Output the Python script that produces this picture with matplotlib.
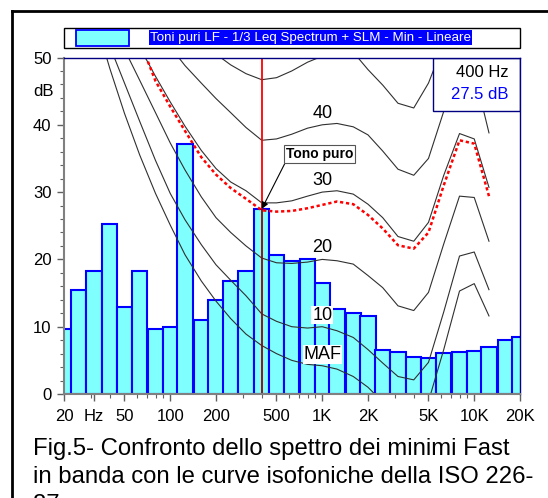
import matplotlib
matplotlib.use("Agg")
import matplotlib.pyplot as plt
from matplotlib import font_manager
from matplotlib.patches import Rectangle
from matplotlib.lines import Line2D
from matplotlib.ticker import FixedLocator, NullFormatter, MultipleLocator

# ---------------- data ----------------
band_freqs = [20, 25, 31.5, 40, 50, 63, 80, 100, 125, 160, 200, 250, 315, 400, 500, 630,
              800, 1000, 1250, 1600, 2000, 2500, 3150, 4000, 5000, 6300, 8000, 10000,
              12500, 16000, 20000]
band_levels = [9.7, 15.4, 18.3, 25.2, 12.9, 18.3, 9.7, 9.9, 37.2, 11.0, 13.9, 16.8, 18.3,
               27.5, 20.7, 19.7, 20.1, 16.5, 12.6, 12.0, 11.6, 6.5, 6.2, 5.5, 5.3, 6.1,
               6.3, 6.4, 7.0, 8.0, 8.4]

curve_freqs = [20, 25, 31.5, 40, 50, 63, 80, 100, 125, 160, 200, 250, 315, 400, 500, 630,
               800, 1000, 1250, 1600, 2000, 2500, 3150, 4000, 5000, 6300, 8000, 10000, 12500]
maf = [74.3, 65.0, 56.3, 48.4, 41.7, 35.5, 29.8, 25.1, 20.7, 16.8, 13.8, 11.2, 8.9, 7.2,
       6.0, 5.0, 4.4, 4.2, 3.7, 2.6, 1.0, -1.2, -3.6, -3.9, -1.1, 6.6, 15.3, 16.4, 11.6]
phon10 = [72, 65, 58.5, 51.7, 46.2, 40.5, 34.7, 29.8, 25.9, 22.2, 19.2, 16.9, 14.6, 11.9,
          10.8, 10.0, 9.8, 10.0, 9.4, 8.4, 6.6, 4.6, 2.6, 2.1, 4.7, 12.2, 20.5, 21.1, 15.5]
phon20 = [76, 68, 62, 55.7, 51.2, 46.6, 41.8, 37.3, 33.3, 29.3, 26.2, 24.0, 22.0, 20.2,
          19.5, 19.4, 19.6, 20.0, 19.8, 19.3, 17.6, 15.8, 13.1, 12.4, 15.1, 22.3, 29.4, 29.2, 22.7]
phon30 = [80, 73, 67, 62, 57, 51.5, 47.2, 43.4, 39.8, 36.2, 33.5, 31.5, 30.2, 28.4,
          28.4, 28.7, 29.4, 30.0, 30.2, 29.7, 28.2, 26.2, 23.4, 22.7, 25.5, 32.5, 38.7, 37.9, 30.7]
phon40 = [86, 80, 75, 70, 65, 60, 55.5, 51.6, 48.8, 46.2, 43.9, 41.8, 39.6, 37.7,
          37.9, 38.6, 39.5, 40.0, 40.2, 39.7, 38.5, 36.1, 33.4, 32.5, 35.0, 42.0, 48.5, 47.8, 38.8]
phon50 = [92, 87, 82, 78, 74, 70, 66, 62, 58.5, 54.5, 50.5, 48.9, 47.6, 46.7,
          47.0, 48.0, 49.3, 50.2, 51.0, 50.8, 48.2, 45.9, 43.2, 42.5, 46.2, 52, 58, 57, 48]
tone_curve = [90, 82, 74, 67, 60, 52.5, 46.5, 42.7, 39.1, 35.2, 32.6, 30.6, 29.0, 27.3,
              27.1, 27.2, 27.6, 28.1, 28.6, 28.2, 26.6, 24.6, 22.1, 21.6, 24.0, 31.0, 37.7, 37.2, 29.4]
curve_labels = ["MAF", "10", "20", "30", "40", None]

marker_freq = 400
xtick_vals = [20, 31.5, 50, 100, 200, 500, 1000, 2000, 5000, 10000, 20000]
xtick_labels = ["20", "Hz", "50", "100", "200", "500", "1K", "2K", "5K", "10K", "20K"]
legend_text = "Toni puri LF - 1/3 Leq Spectrum + SLM - Min - Lineare"
caption = ["Fig.5- Confronto dello spettro dei minimi Fast",
           "in banda con le curve isofoniche della ISO 226-",
           "87"]

# ---------------- fonts ----------------
avail = {f.name for f in font_manager.fontManager.ttflist}
base_font = "Liberation Sans" if "Liberation Sans" in avail else "DejaVu Sans"
narrow_font = "Liberation Sans Narrow" if "Liberation Sans Narrow" in avail else None
plt.rcParams["font.family"] = [base_font, "DejaVu Sans"]

W, H = 548, 498
fig = plt.figure(figsize=(W / 100, H / 100), dpi=100)
fig.patch.set_facecolor("white")

def fx(px):
    return px / W

def fy(py):
    return 1 - py / H

ax_l, ax_r, ax_t, ax_b = 64, 520, 57.5, 394
ax = fig.add_axes([fx(ax_l), fy(ax_b), fx(ax_r) - fx(ax_l), fy(ax_t) - fy(ax_b)])
ax.set_xscale("log")
ax.set_xlim(20, 20000)
ax.set_ylim(0, 50)

# bars
lefts = [f * 10 ** (-0.05) for f in band_freqs]
widths = [f * 10 ** 0.05 - f * 10 ** (-0.05) for f in band_freqs]
ax.bar(lefts, band_levels, width=widths, align="edge", color="#80FFFF",
       edgecolor="#0000FF", linewidth=1.5, zorder=2)

# isophon curves
curves = [maf, phon10, phon20, phon30, phon40, phon50]
for c, lab in zip(curves, curve_labels):
    ax.plot(curve_freqs, c, color="#303030", lw=0.8, zorder=3)
    if lab is not None:
        yv = c[curve_freqs.index(1000)]
        ax.text(1000, yv + 1.7, lab, ha="center", va="center", fontsize=13,
                zorder=6, bbox=dict(facecolor="white", edgecolor="none", pad=0.5))

ax.plot(curve_freqs, tone_curve, color="#FF0000", lw=1.8,
        linestyle=(0, (1.3, 1.1)), zorder=4)

# marker line
mval = band_levels[band_freqs.index(marker_freq)]
ax.vlines(marker_freq, 0, mval, color="#A00000", lw=1.3, zorder=5)
ax.vlines(marker_freq, mval, 50, color="#FF0000", lw=1.3, zorder=5)

# annotation
ax.annotate("Tono puro", xy=(marker_freq, mval), xytext=(960, 35.6),
            ha="center", va="center", fontsize=10, fontweight="bold", zorder=8,
            bbox=dict(boxstyle="square,pad=0.15", facecolor="white", edgecolor="#555555", lw=0.8),
            arrowprops=dict(arrowstyle="-|>", color="black", lw=0.8,
                            mutation_scale=10, relpos=(0, 0), shrinkA=0, shrinkB=0))

# info box
ax.add_patch(Rectangle((0.809, 0.84), 0.191, 0.16, transform=ax.transAxes,
                       facecolor="white", edgecolor="#000080", lw=1.0, zorder=9))
ax.text(0.974, 0.955, f"{marker_freq} Hz", transform=ax.transAxes, ha="right",
        va="center", fontsize=12, color="black", zorder=10)
ax.text(0.974, 0.89, f"{mval:.1f} dB", transform=ax.transAxes, ha="right",
        va="center", fontsize=12, color="#0000FF", zorder=10)

# axes styling
for s in ["left", "bottom"]:
    ax.spines[s].set_color("#808080")
    ax.spines[s].set_linewidth(1.5)
for s in ["top", "right"]:
    ax.spines[s].set_color("#000080")
    ax.spines[s].set_linewidth(1.0)
for s in ax.spines.values():
    s.set_zorder(11)

ax.xaxis.set_major_locator(FixedLocator(xtick_vals))
ax.set_xticklabels(xtick_labels)
minor = []
for dec in [10, 100, 1000, 10000]:
    for m in range(2, 10):
        v = m * dec
        if 20 <= v <= 20000 and v not in xtick_vals:
            minor.append(v)
ax.xaxis.set_minor_locator(FixedLocator(minor))
ax.xaxis.set_minor_formatter(NullFormatter())
ax.yaxis.set_major_locator(MultipleLocator(10))
ax.yaxis.set_minor_locator(MultipleLocator(2))
ax.tick_params(which="both", direction="out", color="#606060", labelsize=12)
ax.tick_params(which="major", length=5, width=1.0)
ax.tick_params(which="minor", length=3, width=0.8)
ax.tick_params(axis="x", pad=6)
ax.tick_params(axis="y", pad=4)
ax.text(-0.022, 45, "dB", transform=ax.get_yaxis_transform(), ha="right",
        va="center", fontsize=12)

# outer frame
fig.add_artist(Line2D([fx(12), fx(12)], [fy(11.5), 0], color="black", lw=2.0))
fig.add_artist(Line2D([fx(12), 1], [fy(11.5), fy(11.5)], color="black", lw=2.0))

# legend
fig.add_artist(Rectangle((fx(64), fy(48)), fx(520) - fx(64), fy(28) - fy(48),
                         transform=fig.transFigure, facecolor="white",
                         edgecolor="black", lw=1.0))
fig.add_artist(Rectangle((fx(76), fy(46)), fx(129) - fx(76), fy(30.5) - fy(46),
                         transform=fig.transFigure, facecolor="#80FFFF",
                         edgecolor="#0000FF", lw=1.3))
if narrow_font:
    fig.text(fx(150), fy(37.5), legend_text, ha="left", va="center", fontsize=11.5,
             family=[narrow_font, "DejaVu Sans"], color="white",
             bbox=dict(facecolor="#0000FF", edgecolor="none", pad=0.8))
else:
    fig.text(fx(150), fy(37.5), legend_text, ha="left", va="center", fontsize=9.6,
             color="white", bbox=dict(facecolor="#0000FF", edgecolor="none", pad=0.8))

# caption
for i, line in enumerate(caption):
    fig.text(fx(33), fy(455 + 28 * i), line, ha="left", va="baseline", fontsize=17.2)

fig.savefig("out.png", dpi=100)
